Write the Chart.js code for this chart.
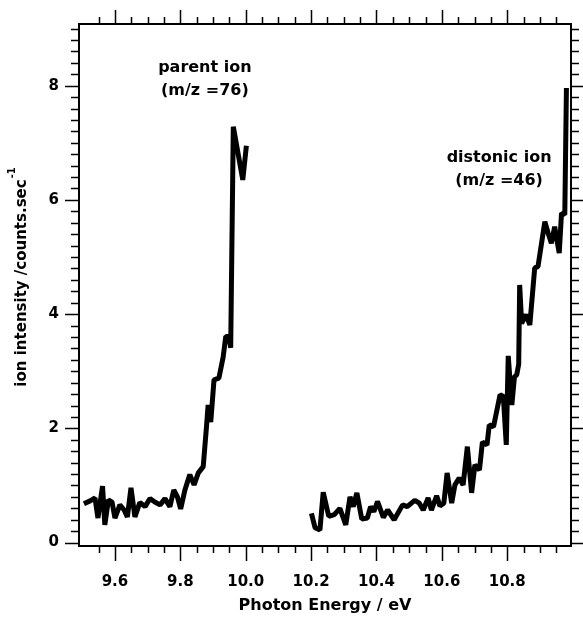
<!DOCTYPE html>
<html>
<head>
<meta charset="utf-8">
<script src="https://cdn.jsdelivr.net/npm/chart.js@4.4.1/dist/chart.umd.min.js"></script>
<style>
  body { margin: 0; background: #fff; }
  #wrap { width: 583px; height: 617px; }
</style>
</head>
<body>
<div id="wrap"><canvas id="grafico" width="583" height="617"></canvas></div>
<script>
// ion parental (m/z 76)
const energiaParental = [9.505, 9.524, 9.539, 9.548, 9.562, 9.569, 9.580, 9.591, 9.600, 9.615,
  9.628, 9.638, 9.649, 9.661, 9.676, 9.692, 9.707, 9.722, 9.738, 9.753,
  9.768, 9.780, 9.791, 9.801, 9.814, 9.829, 9.842, 9.855, 9.870, 9.880,
  9.885, 9.893, 9.903, 9.918, 9.931, 9.939, 9.949, 9.954, 9.962, 9.991, 10.002];
const cuentasParental = [0.68, 0.73, 0.78, 0.43, 0.99, 0.31, 0.75, 0.71, 0.43, 0.66,
  0.57, 0.45, 0.96, 0.45, 0.70, 0.63, 0.77, 0.71, 0.66, 0.77,
  0.63, 0.92, 0.80, 0.59, 0.92, 1.19, 1.01, 1.22, 1.33, 2.03,
  2.41, 2.11, 2.85, 2.88, 3.25, 3.61, 3.61, 3.41, 7.28, 6.35, 6.95];

// ion distonico (m/z 46)
const energiaDistonico = [10.201, 10.212, 10.227, 10.237, 10.254, 10.271, 10.288, 10.306, 10.319, 10.329,
  10.340, 10.355, 10.372, 10.382, 10.392, 10.403, 10.421, 10.434, 10.454, 10.480,
  10.494, 10.517, 10.531, 10.543, 10.558, 10.568, 10.584, 10.594, 10.606, 10.616,
  10.630, 10.640, 10.653, 10.665, 10.678, 10.691, 10.701, 10.715, 10.724, 10.738,
  10.745, 10.758, 10.778, 10.788, 10.797, 10.803, 10.814, 10.822, 10.829, 10.835,
  10.838, 10.844, 10.857, 10.869, 10.884, 10.894, 10.915, 10.925, 10.935, 10.945,
  10.959, 10.966, 10.976, 10.981];
const cuentasDistonico = [0.51, 0.26, 0.22, 0.88, 0.46, 0.49, 0.60, 0.31, 0.80, 0.63,
  0.87, 0.41, 0.43, 0.63, 0.54, 0.72, 0.44, 0.57, 0.40, 0.66,
  0.63, 0.74, 0.69, 0.57, 0.78, 0.57, 0.82, 0.64, 0.69, 1.22,
  0.69, 1.01, 1.13, 1.01, 1.68, 0.87, 1.36, 1.27, 1.76, 1.71,
  2.06, 2.03, 2.59, 2.56, 1.71, 3.27, 2.41, 2.90, 2.94, 3.12,
  4.51, 3.84, 3.99, 3.81, 4.81, 4.83, 5.62, 5.42, 5.24, 5.53,
  5.07, 5.77, 5.74, 7.96];

const ticksX = [9.6, 9.8, 10.0, 10.2, 10.4, 10.6, 10.8];
const ticksY = [0, 2, 4, 6, 8];

const tituloX = "Photon Energy / eV";
const tituloY = "ion intensity /counts.sec";
const tituloYExp = "-1";

const etiquetas = [
  { lineas: ["parent ion", "(m/z =76)"], x: 9.875, y: 8.32 },
  { lineas: ["distonic ion", "(m/z =46)"], x: 10.775, y: 6.73 }
];

const fuente = "DejaVu Sans";

let aPuntos = (xs, ys) => xs.map((v, i) => ({ x: v, y: ys[i] }));

const marcoEjes = {
  id: "marcoEjes",
  afterDatasetsDraw(chart) {
    const { ctx, chartArea: a, scales: { x, y } } = chart;
    ctx.save();
    ctx.strokeStyle = "#000";
    ctx.lineWidth = 2;
    ctx.strokeRect(a.left, a.top, a.right - a.left, a.bottom - a.top);

    ctx.lineWidth = 1.5;
    ctx.beginPath();
    for (let k = 191; k <= 219; k++) {
      const v = k * 0.05;
      const mayor = k % 4 === 0;
      const px = Math.round(x.getPixelForValue(v)) + 0.5;
      ctx.moveTo(px, a.bottom);
      ctx.lineTo(px, a.bottom + (mayor ? 15 : 7));
      ctx.moveTo(px, a.top);
      ctx.lineTo(px, a.top - (mayor ? 14 : 7));
    }
    for (let k = 0; k <= 45; k++) {
      const v = k * 0.2;
      const mayor = k % 10 === 0;
      const py = Math.round(y.getPixelForValue(v)) + 0.5;
      ctx.moveTo(a.left, py);
      ctx.lineTo(a.left - (mayor ? 14 : 8), py);
      ctx.moveTo(a.right, py);
      ctx.lineTo(a.right + (mayor ? 14 : 8), py);
    }
    ctx.stroke();

    ctx.fillStyle = "#000";
    ctx.textAlign = "center";
    ctx.textBaseline = "middle";
    ctx.font = "bold 16px '" + fuente + "'";
    etiquetas.forEach(et => {
      const cx = x.getPixelForValue(et.x);
      const cy = y.getPixelForValue(et.y);
      et.lineas.forEach((t, i) => ctx.fillText(t, cx, cy + i * 23));
    });

    ctx.fillText(tituloX, (a.left + a.right) / 2, 606);

    ctx.translate(22.5, 283);
    ctx.rotate(-Math.PI / 2);
    ctx.font = "bold 15px '" + fuente + "'";
    const w = ctx.measureText(tituloY).width;
    ctx.fillText(tituloY, 0, 0);
    ctx.textAlign = "left";
    ctx.font = "bold 10px '" + fuente + "'";
    ctx.fillText(tituloYExp, w / 2 + 1, -10);
    ctx.restore();
  }
};

const estiloLinea = {
  borderColor: "#000",
  borderWidth: 5,
  borderJoinStyle: "bevel",
  pointRadius: 0,
  tension: 0,
  fill: false
};

const config = {
  type: "line",
  data: {
    datasets: [
      { label: "parent ion", data: aPuntos(energiaParental, cuentasParental), ...estiloLinea },
      { label: "distonic ion", data: aPuntos(energiaDistonico, cuentasDistonico), ...estiloLinea }
    ]
  },
  options: {
    responsive: false,
    animation: false,
    layout: { padding: { top: 24, right: 12, left: 0, bottom: 0 } },
    plugins: { legend: { display: false }, tooltip: { enabled: false } },
    scales: {
      x: {
        type: "linear",
        min: 9.49,
        max: 10.995,
        grid: { display: false },
        border: { display: false },
        afterBuildTicks: (s) => { s.ticks = ticksX.map(v => ({ value: v })); },
        afterFit: (s) => { s.height = 71; },
        ticks: {
          autoSkip: false,
          maxRotation: 0,
          padding: 19,
          color: "#000",
          font: { family: fuente, size: 15, weight: "bold" },
          callback: (v) => Number(v).toFixed(1)
        }
      },
      y: {
        type: "linear",
        min: -0.06,
        max: 9.08,
        grid: { display: false },
        border: { display: false },
        afterBuildTicks: (s) => { s.ticks = ticksY.map(v => ({ value: v })); },
        afterFit: (s) => { s.width = 79; },
        ticks: {
          autoSkip: false,
          padding: 12,
          color: "#000",
          font: { family: fuente, size: 15, weight: "bold" },
          callback: (v) => String(v)
        }
      }
    }
  },
  plugins: [marcoEjes]
};

new Chart(document.getElementById("grafico"), config);
</script>
</body>
</html>
